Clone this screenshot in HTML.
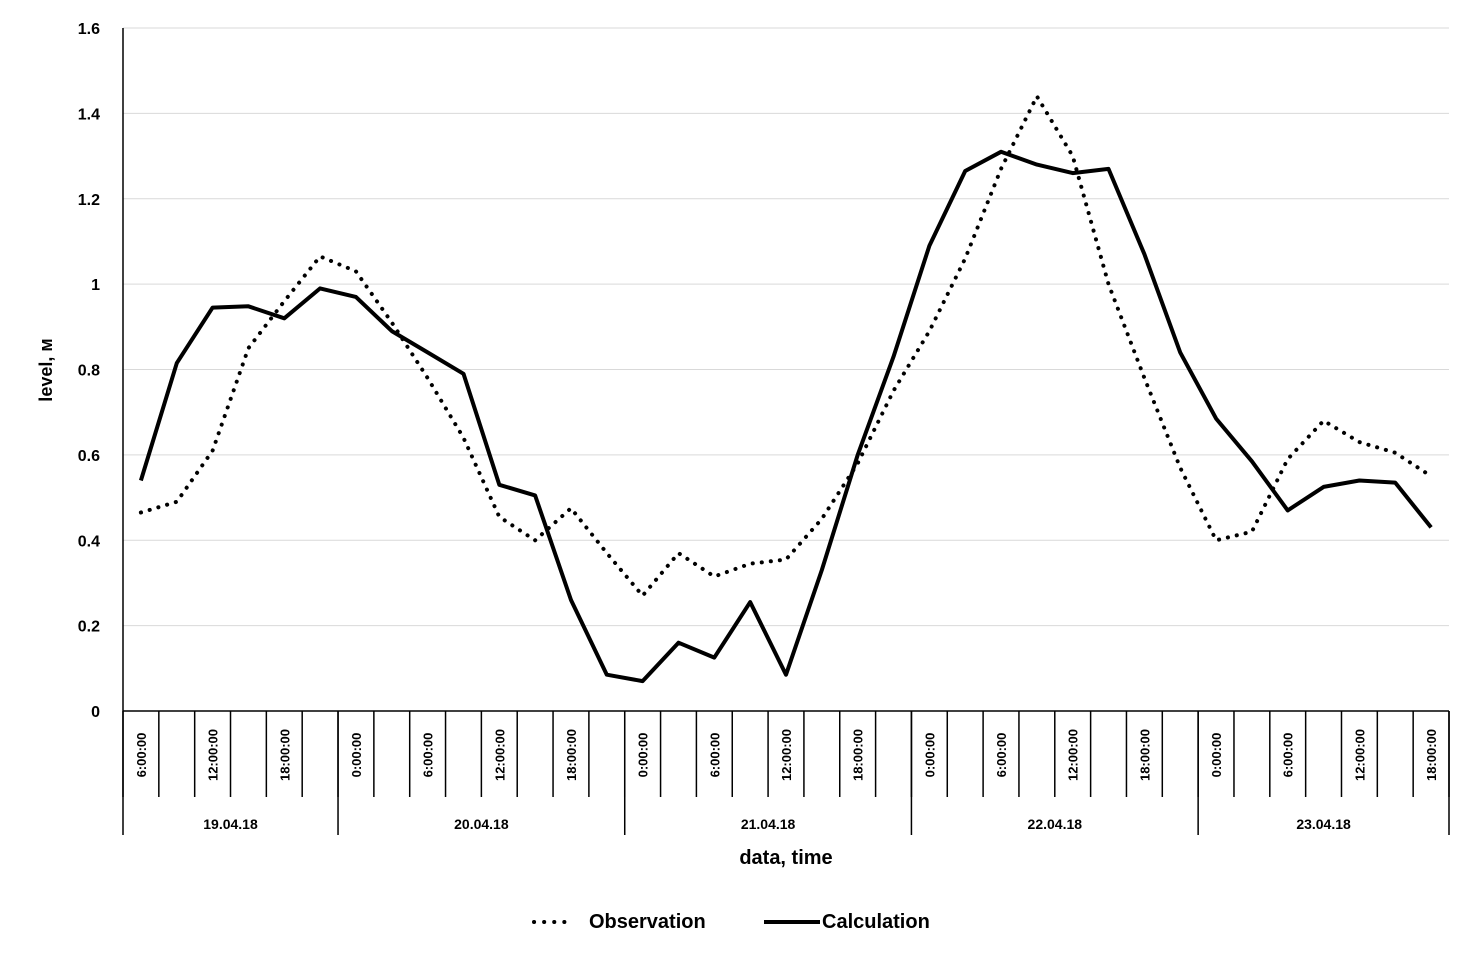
<!DOCTYPE html>
<html><head><meta charset="utf-8"><style>
body{margin:0;background:#fff;}
svg{display:block;font-family:"Liberation Sans",sans-serif;font-weight:bold;}
</style></head><body>
<svg id="chart" width="1478" height="965"></svg>
<script>
const hours=[6,9,12,15,18,21,0,3,6,9,12,15,18,21,0,3,6,9,12,15,18,21,0,3,6,9,12,15,18,21,0,3,6,9,12,15,18];
const days=["19.04.18","20.04.18","21.04.18","22.04.18","23.04.18"];
const dayCounts=[6,8,8,8,7];
const observation=[0.465,0.49,0.61,0.85,0.96,1.065,1.03,0.91,0.78,0.64,0.455,0.4,0.475,0.37,0.27,0.37,0.315,0.345,0.355,0.45,0.58,0.75,0.89,1.06,1.27,1.44,1.3,1.0,0.78,0.57,0.4,0.42,0.59,0.68,0.63,0.605,0.55];
const calculation=[0.54,0.815,0.945,0.948,0.92,0.99,0.97,0.89,0.84,0.79,0.53,0.505,0.26,0.085,0.07,0.16,0.125,0.255,0.085,0.33,0.6,0.83,1.09,1.265,1.31,1.28,1.26,1.27,1.07,0.84,0.685,0.585,0.47,0.525,0.54,0.535,0.43];
const yTicks=[0,0.2,0.4,0.6,0.8,1,1.2,1.4,1.6];

const svg=document.getElementById('chart');
const NS='http://www.w3.org/2000/svg';
const X0=123,X1=1449,Y0=711,Y1=28;
const cw=(X1-X0)/hours.length;
const xs=i=>X0+cw*(i+0.5);
const ys=v=>Y0-(v/1.6)*(Y0-Y1);
function mk(t,a,p){const e=document.createElementNS(NS,t);for(const k in a)e.setAttribute(k,a[k]);(p||svg).appendChild(e);return e;}

yTicks.forEach(v=>{
  if(v>0){const g=mk('line',{x1:X0,x2:X1,y1:ys(v),y2:ys(v),stroke:'#d9d9d9','stroke-width':1});
  
  }
  const t=mk('text',{x:100,y:ys(v)+6,'text-anchor':'end','font-size':16,fill:'#000'});
  t.textContent=String(v);
  
  
});
let a=mk('line',{x1:X0,x2:X0,y1:Y1,y2:835,stroke:'#000','stroke-width':1.5});


a=mk('line',{x1:X0,x2:X1,y1:Y0,y2:Y0,stroke:'#000','stroke-width':1.5});



for(let i=0;i<=hours.length;i++){
  const l=mk('line',{x1:X0+cw*i,x2:X0+cw*i,y1:Y0,y2:797,stroke:'#000','stroke-width':1.5});
  
  
}
hours.forEach((h,i)=>{
  if(i%2)return;
  const x=xs(i)+5,y=755;
  const t=mk('text',{x:x,y:y,transform:`rotate(-90 ${x} ${y})`,'text-anchor':'middle','font-size':13,fill:'#000'});
  t.textContent=h+':00:00';
  
  
});
let start=0;
dayCounts.forEach((c,d)=>{
  const xa=X0+cw*start,xb=X0+cw*(start+c);
  const l=mk('line',{x1:xb,x2:xb,y1:Y0,y2:835,stroke:'#000','stroke-width':1.5});
  
  
  const t=mk('text',{x:(xa+xb)/2,y:829,'text-anchor':'middle','font-size':14,fill:'#000'});
  t.textContent=days[d];
  
  
  start+=c;
});

function path(vals){return vals.map((v,i)=>(i?'L':'M')+xs(i).toFixed(1)+' '+ys(v).toFixed(1)).join(' ');}
const po=mk('path',{d:path(observation),fill:'none',stroke:'#000','stroke-width':4,'stroke-dasharray':'0.1 9','stroke-linecap':'round'});


const pc=mk('path',{d:path(calculation),fill:'none',stroke:'#000','stroke-width':4,'stroke-linejoin':'round'});



let t=mk('text',{x:786,y:864,'text-anchor':'middle','font-size':20,fill:'#000'});
t.textContent='data, time';


t=mk('text',{x:52,y:370,transform:'rotate(-90 52 370)','text-anchor':'middle','font-size':18,fill:'#000'});
t.textContent='level, м';



let g=mk('g',{});


mk('line',{x1:534,x2:574,y1:922,y2:922,stroke:'#000','stroke-width':4,'stroke-dasharray':'0.1 10','stroke-linecap':'round'},g);
mk('text',{x:589,y:928,'font-size':20,fill:'#000'},g).textContent='Observation';
g=mk('g',{});


mk('line',{x1:764,x2:820,y1:922,y2:922,stroke:'#000','stroke-width':4},g);
mk('text',{x:822,y:928,'font-size':20,fill:'#000'},g).textContent='Calculation';
</script>
</body></html>
